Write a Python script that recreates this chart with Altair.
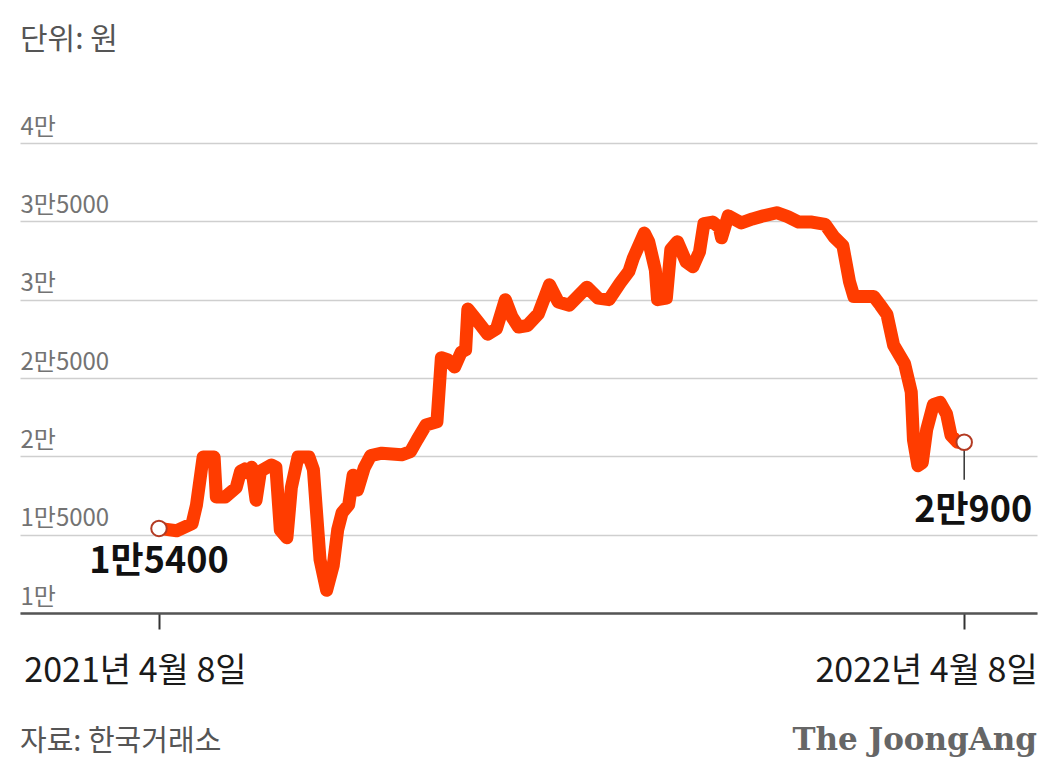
import altair as alt
import pandas as pd

# ---- data ----
dates = [
    "2021-04-08", "2021-04-16", "2021-04-23", "2021-04-25", "2021-04-28", "2021-05-03",
    "2021-05-04", "2021-05-08", "2021-05-13", "2021-05-15", "2021-05-17", "2021-05-18",
    "2021-05-20", "2021-05-22", "2021-05-24", "2021-05-29", "2021-05-31", "2021-06-02",
    "2021-06-05", "2021-06-07", "2021-06-10", "2021-06-15", "2021-06-17", "2021-06-20",
    "2021-06-23", "2021-06-26", "2021-06-28", "2021-06-30", "2021-07-03", "2021-07-05",
    "2021-07-07", "2021-07-10", "2021-07-13", "2021-07-18", "2021-07-27", "2021-07-31",
    "2021-08-03", "2021-08-07", "2021-08-12", "2021-08-14", "2021-08-17", "2021-08-20",
    "2021-08-23", "2021-08-25", "2021-08-26", "2021-08-30", "2021-09-04", "2021-09-08",
    "2021-09-12", "2021-09-15", "2021-09-18", "2021-09-22", "2021-09-27", "2021-10-02",
    "2021-10-06", "2021-10-11", "2021-10-19", "2021-10-24", "2021-10-29", "2021-11-03",
    "2021-11-07", "2021-11-09", "2021-11-14", "2021-11-16", "2021-11-19", "2021-11-20",
    "2021-11-24", "2021-11-26", "2021-11-29", "2021-12-03", "2021-12-06", "2021-12-09",
    "2021-12-11", "2021-12-15", "2021-12-18", "2021-12-19", "2021-12-22", "2021-12-28",
    "2022-01-02", "2022-01-07", "2022-01-13", "2022-01-18", "2022-01-23", "2022-01-29",
    "2022-02-04", "2022-02-08", "2022-02-12", "2022-02-15", "2022-02-17", "2022-02-26",
    "2022-03-01", "2022-03-04", "2022-03-07", "2022-03-12", "2022-03-15", "2022-03-16",
    "2022-03-18", "2022-03-20", "2022-03-22", "2022-03-25", "2022-03-28", "2022-03-31",
    "2022-04-02", "2022-04-05", "2022-04-08",
]
prices = [
    15400, 15250, 15700, 16900, 19950, 19950,
    17400, 17400, 18000, 19050, 19200, 18950,
    19300, 17200, 19050, 19450, 19300, 15300,
    14800, 18000, 19950, 19950, 19150, 13400,
    11450, 13050, 15300, 16400, 16900, 18800,
    17850, 19250, 20050, 20200, 20100, 20300,
    21050, 22000, 22200, 26300, 26150, 25700,
    26650, 26800, 29400, 28700, 27800, 28150,
    30000, 28900, 28250, 28350, 29100, 30950,
    29850, 29650, 30800, 30100, 30000, 31050,
    31800, 32650, 34250, 33700, 31900, 30000,
    30100, 33200, 33700, 32400, 32100, 33050,
    34850, 34950, 34600, 33950, 35350, 34900,
    35150, 35350, 35550, 35300, 34950, 34950,
    34800, 34000, 33450, 31150, 30200, 30200,
    29650, 29050, 27100, 25900, 24100, 21050,
    19400, 19600, 21700, 23300, 23450, 22700,
    21350, 20900, 20900,
]

y_tick_values = [10000, 15000, 20000, 25000, 30000, 35000, 40000]
y_tick_labels = ["1만", "1만5000", "2만", "2만5000", "3만", "3만5000", "4만"]
x_tick_dates = [(2021, 4, 8), (2022, 4, 8)]
x_tick_labels = ["2021년 4월 8일", "2022년 4월 8일"]

start_label = "1만5400"
end_label = "2만900"
leader_bottom = 18500

unit_text = "단위: 원"
source_text = "자료: 한국거래소"
brand_text = "The JoongAng"

# ---- frames ----
df = pd.DataFrame({"date": dates, "value": prices})
start_df = pd.DataFrame({"date": [dates[0]], "value": [prices[0]], "label": [start_label]})
end_df = pd.DataFrame({"date": [dates[-1]], "value": [prices[-1]], "label": [end_label],
                       "leader": [leader_bottom]})

KFONT = "Noto Sans CJK KR"
W, H = 1017, 470

y_expr = " : ".join(f"datum.value == {v} ? '{l}'" for v, l in zip(y_tick_values, y_tick_labels)) + " : ''"
x_expr = f"datum.index == 0 ? '{x_tick_labels[0]}' : '{x_tick_labels[1]}'"

x_enc = alt.X(
    "date:T",
    scale=alt.Scale(type="utc", domain=[alt.DateTime(year=2021, month=2, date=4, utc=True),
                                        alt.DateTime(year=2022, month=5, date=11, utc=True)]),
    axis=alt.Axis(
        title=None, grid=False,
        values=[alt.DateTime(year=y, month=m, date=d, utc=True) for (y, m, d) in x_tick_dates],
        labelExpr=x_expr,
        domainColor="#555555", domainWidth=2.5,
        tickColor="#333333", tickWidth=2, tickSize=16,
        labelFont=KFONT, labelFontSize=34, labelColor="#1a1a1a",
        labelBaseline="alphabetic", labelPadding=52, labelLimit=500, labelOverlap=False,
        labelAlign={"condition": {"test": "datum.index == 0", "value": "center"}, "value": "right"},
        labelOffset={"condition": {"test": "datum.index == 0", "value": -24}, "value": 73},
    ),
)
y_enc = alt.Y(
    "value:Q",
    scale=alt.Scale(domain=[10000, 40000], nice=False, zero=False),
    axis=alt.Axis(
        title=None, values=y_tick_values, labelExpr=y_expr,
        grid=True, gridColor="#cfcfcf", gridWidth=1.5,
        domain=False, ticks=False,
        labelAlign="left", labelBaseline="alphabetic", labelPadding=0, labelOffset=-9,
        labelFont=KFONT, labelFontSize=24, labelColor="#737373",
    ),
)

line = alt.Chart(df).mark_line(
    color="#ff3c00", strokeWidth=13, strokeJoin="round", strokeCap="round"
).encode(x=x_enc, y=y_enc)

leader = alt.Chart(end_df).mark_rule(color="#333333", strokeWidth=1.5).encode(
    x=x_enc, y=y_enc, y2=alt.Y2("leader:Q")
)

pts = alt.Chart(pd.concat([start_df, end_df[["date", "value", "label"]]])).mark_point(
    shape="circle", size=240, fill="white", fillOpacity=1, stroke="#b33a22",
    strokeWidth=2, opacity=1
).encode(x=x_enc, y=y_enc)

start_txt = alt.Chart(start_df).mark_text(
    font=KFONT, fontSize=36, fontWeight="bold", color="#111111",
    align="center", baseline="alphabetic", dy=45
).encode(x=x_enc, y=y_enc, text="label:N")

end_txt = alt.Chart(end_df).mark_text(
    font=KFONT, fontSize=36, fontWeight="bold", color="#111111",
    align="center", baseline="alphabetic", dx=9, dy=80
).encode(x=x_enc, y=y_enc, text="label:N")

unit = alt.Chart(pd.DataFrame({"t": [unit_text]})).mark_text(
    font=KFONT, fontSize=30, color="#555555", align="left", baseline="alphabetic"
).encode(text="t:N", x=alt.value(0), y=alt.value(-94))

source = alt.Chart(pd.DataFrame({"t": [source_text]})).mark_text(
    font=KFONT, fontSize=29, color="#555555", align="left", baseline="alphabetic"
).encode(text="t:N", x=alt.value(0), y=alt.value(608))

brand = alt.Chart(pd.DataFrame({"t": [brand_text]})).mark_text(
    font="DejaVu Serif", fontSize=31, fontWeight="bold", color="#666666",
    align="right", baseline="alphabetic"
).encode(text="t:N", x=alt.value(W), y=alt.value(607))

chart = alt.layer(line, leader, pts, start_txt, end_txt, unit, source, brand).properties(
    width=W, height=H,
    padding={"left": 12, "top": 135, "right": 2, "bottom": 160},
    autosize=alt.AutoSizeParams(type="none"),
    background="white",
).configure_view(stroke=None)

chart.save("out.html", embed_options={"renderer": "svg", "actions": False})
